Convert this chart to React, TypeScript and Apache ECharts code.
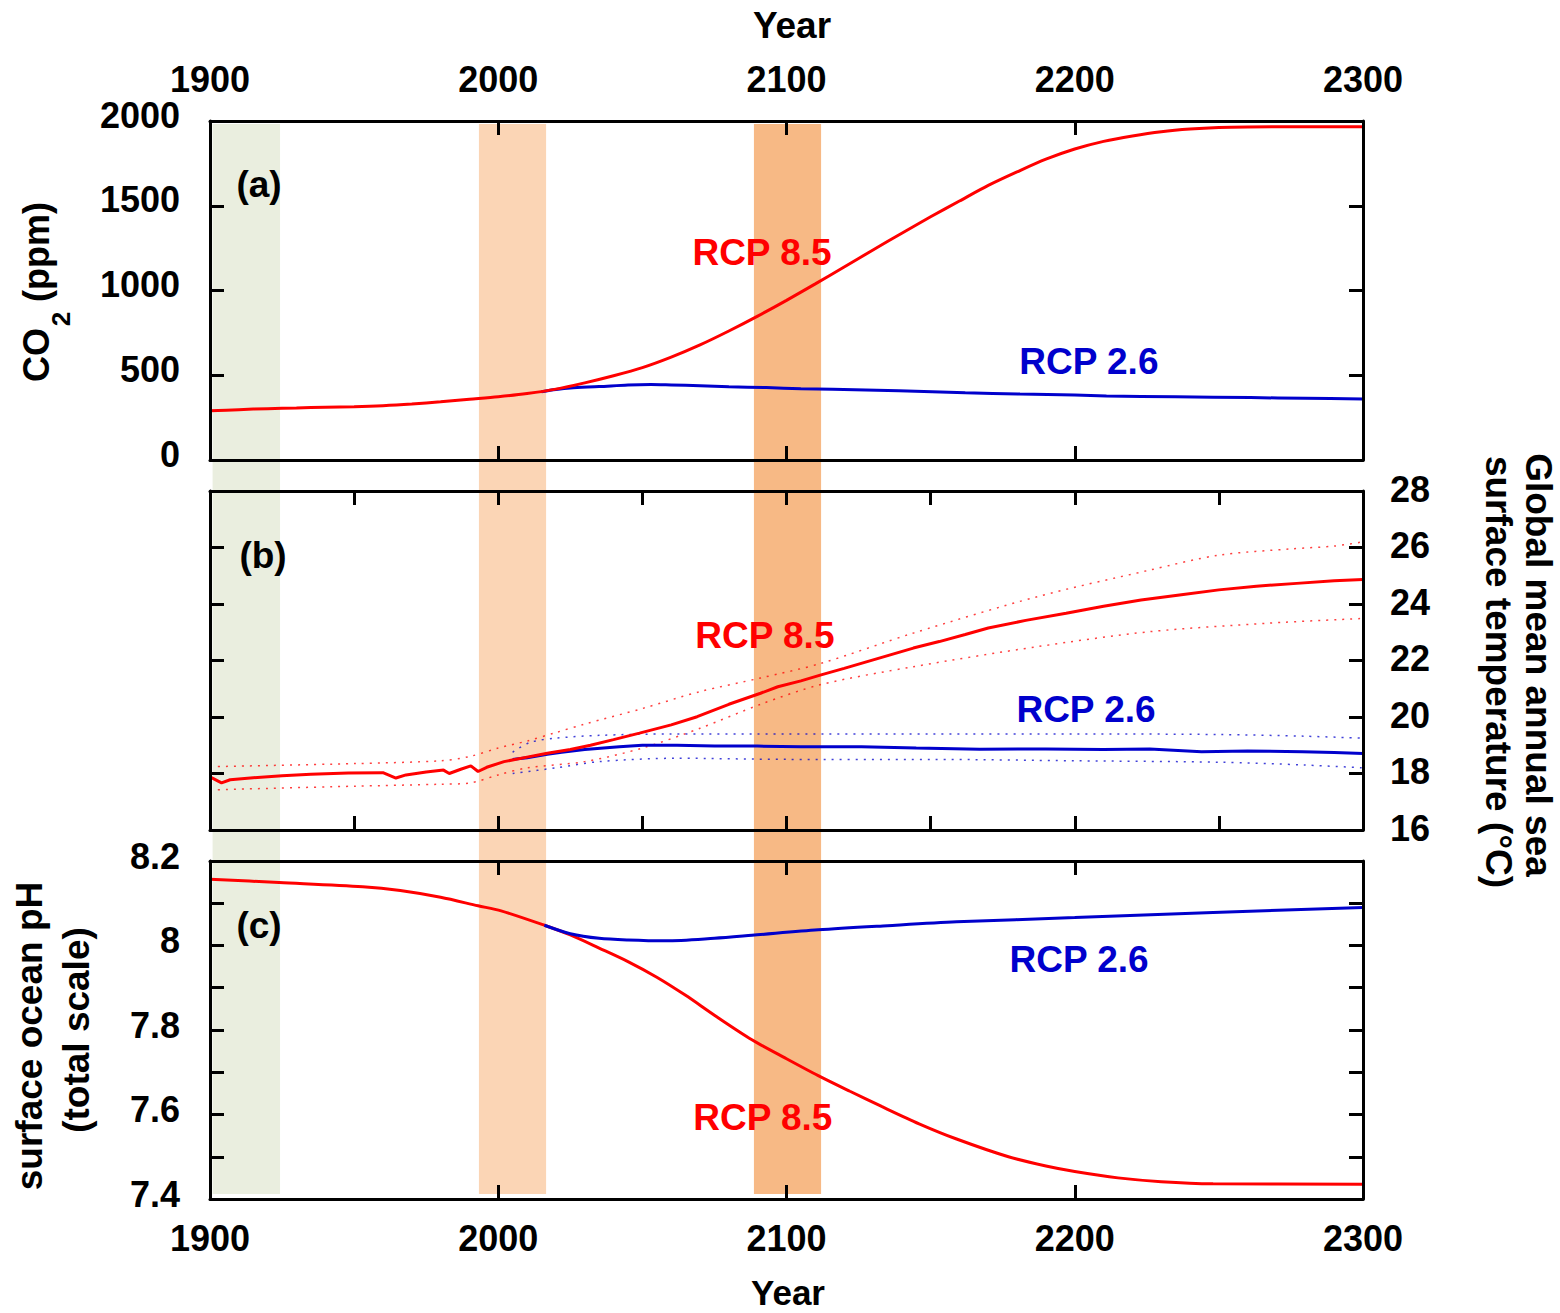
import React, { useEffect, useRef } from 'react';
import * as echarts from 'echarts';

// ---------- data ----------
const co2Rcp85: [number, number][] = [
  [1900, 290], [1910, 297], [1920, 303], [1930, 307], [1940, 311], [1950, 314], [1960, 320],
  [1970, 330], [1980, 343], [1990, 358], [2000, 373], [2010, 392], [2020, 418], [2030, 455],
  [2040, 497], [2050, 545], [2060, 607], [2070, 679], [2080, 761], [2090, 849], [2100, 942],
  [2110, 1039], [2120, 1139], [2130, 1239], [2140, 1338], [2150, 1435], [2160, 1528],
  [2170, 1620], [2180, 1700], [2190, 1775], [2200, 1835], [2210, 1880], [2220, 1912],
  [2230, 1937], [2240, 1953], [2250, 1962], [2260, 1965], [2280, 1966], [2300, 1966],
];
const co2Rcp26: [number, number][] = [
  [2015, 403], [2020, 416], [2025, 425], [2035, 433], [2045, 443], [2053, 446], [2060, 443],
  [2070, 438], [2080, 432], [2093, 427], [2105, 421], [2116, 417], [2139, 409], [2162, 397],
  [2181, 389], [2200, 383], [2211, 378], [2235, 373], [2261, 368], [2280, 364], [2300, 360],
];

const sstRcp85: [number, number][] = [
  [1900, 17.88], [1904, 17.67], [1907, 17.78], [1915, 17.85], [1925, 17.92], [1935, 17.97],
  [1948, 18.02], [1960, 18.03], [1964.5, 17.84], [1968, 17.95], [1975, 18.05], [1981, 18.12],
  [1983, 18.0], [1987, 18.15], [1990.5, 18.27], [1993, 18.07], [1996, 18.22], [2002, 18.42],
  [2010, 18.58], [2017, 18.72], [2025, 18.85], [2032, 19.0], [2040, 19.2], [2049, 19.43],
  [2060, 19.72], [2069, 20.01], [2080, 20.45], [2091, 20.84], [2097, 21.07], [2105, 21.28],
  [2112, 21.49], [2120, 21.72], [2128, 21.96], [2136, 22.2], [2144, 22.44], [2153, 22.67],
  [2162, 22.92], [2170, 23.15], [2183, 23.42], [2197, 23.67], [2210, 23.92], [2223, 24.14],
  [2237, 24.33], [2250, 24.5], [2263, 24.63], [2277, 24.73], [2290, 24.82], [2300, 24.87],
];
const sstRcp85Upper: [number, number][] = [
  [1900, 18.24], [1950, 18.35], [1980, 18.45], [1990, 18.6], [2000, 18.9], [2010, 19.15],
  [2020, 19.45], [2030, 19.75], [2050, 20.3], [2070, 20.9], [2091, 21.38], [2112, 21.9],
  [2144, 22.97], [2187, 24.26], [2226, 25.2], [2250, 25.73], [2275, 25.95], [2290, 26.05],
  [2300, 26.2],
];
const sstRcp85Lower: [number, number][] = [
  [1900, 17.42], [1950, 17.55], [1980, 17.62], [1990, 17.66], [2000, 17.95], [2010, 18.2],
  [2030, 18.42], [2050, 18.9], [2070, 19.6], [2091, 20.45], [2112, 21.15], [2144, 21.78],
  [2187, 22.49], [2226, 23.02], [2267, 23.32], [2300, 23.49],
];
const sstRcp26: [number, number][] = [
  [2005, 18.5], [2010, 18.56], [2017, 18.68], [2022, 18.75], [2030, 18.85], [2042, 18.95],
  [2050, 19.0], [2062, 19.0], [2075, 18.97], [2090, 18.97], [2105, 18.95], [2126, 18.95],
  [2145, 18.9], [2167, 18.86], [2190, 18.87], [2210, 18.85], [2226, 18.87], [2244, 18.77],
  [2260, 18.8], [2279, 18.77], [2290, 18.74], [2300, 18.71],
];
const sstRcp26Upper: [number, number][] = [
  [2005, 18.75], [2011, 19.1], [2020, 19.25], [2035, 19.35], [2060, 19.4], [2100, 19.4],
  [2150, 19.4], [2200, 19.4], [2250, 19.38], [2280, 19.32], [2300, 19.25],
];
const sstRcp26Lower: [number, number][] = [
  [2005, 18.0], [2020, 18.2], [2035, 18.42], [2062, 18.54], [2100, 18.5], [2150, 18.5],
  [2200, 18.45], [2250, 18.4], [2280, 18.3], [2300, 18.2],
];

const phRcp85: [number, number][] = [
  [1900, 8.157], [1924, 8.149], [1953, 8.139], [1966, 8.13], [1980, 8.114], [1993, 8.094],
  [2001, 8.082], [2016, 8.048], [2025, 8.025], [2035, 7.994], [2045, 7.962], [2055, 7.925],
  [2065, 7.882], [2075, 7.835], [2088, 7.777], [2100, 7.732], [2111, 7.692], [2122, 7.655],
  [2133, 7.619], [2146, 7.578], [2159, 7.542], [2177, 7.5], [2190, 7.478], [2200, 7.465],
  [2215, 7.45], [2230, 7.441], [2248, 7.436], [2300, 7.435],
];
const phRcp26: [number, number][] = [
  [2016, 8.048], [2025, 8.028], [2035, 8.017], [2045, 8.013], [2058, 8.011], [2075, 8.017],
  [2088, 8.024], [2111, 8.037], [2135, 8.047], [2159, 8.056], [2200, 8.066], [2248, 8.078],
  [2300, 8.09],
];

// shaded periods (years)
const bandStarts = [1900.9, 1993.3, 2088.7];
const bandEnds = [1924.3, 2016.6, 2112];
const bandColors = ['#EAEEDF', '#FBD5B5', '#F7B985'];

// annotation anchors [year, value]
const co2Label85: [number, number] = [2091.5, 1224];
const co2Label26: [number, number] = [2204.9, 584];
const sstLabel85: [number, number] = [2092.5, 22.87];
const sstLabel26: [number, number] = [2203.9, 20.28];
const phLabel26: [number, number] = [2201.5, 7.968];
const phLabel85: [number, number] = [2091.8, 7.5935];

const RED = '#FF0000';
const BLUE = '#0000CC';
const FONT = '"Liberation Sans", Arial, Helvetica, sans-serif';

const tickStyle = { inside: true, length: 14, lineStyle: { color: '#000', width: 3 } };
const lineStyleAxis = { show: true, onZero: false, lineStyle: { color: '#000', width: 3 } };
const labelFont = { fontFamily: FONT, fontSize: 36, fontWeight: 'bold' as const, color: '#000' };
const plain = (v: number) => String(v);

function xAx(gridIndex: number, position: 'top' | 'bottom', interval: number, labels: boolean, margin = 22) {
  return {
    type: 'value', gridIndex, position, min: 1900, max: 2300, interval, z: 10,
    axisLine: lineStyleAxis, axisTick: tickStyle, splitLine: { show: false },
    axisLabel: labels
      ? { ...labelFont, margin, formatter: plain, showMinLabel: true, showMaxLabel: true }
      : { show: false },
  };
}
function yAx(gridIndex: number, position: 'left' | 'right', min: number, max: number, interval: number,
  labels: boolean, margin: number, formatter?: (v: number) => string, raise = 0) {
  const lift = raise > 0 ? { verticalAlign: 'bottom', lineHeight: raise * 2 } : {};
  return {
    type: 'value', gridIndex, position, min, max, interval, z: 10,
    axisLine: lineStyleAxis, axisTick: tickStyle, splitLine: { show: false },
    axisLabel: labels
      ? { ...labelFont, margin, formatter: formatter || plain, showMinLabel: true, showMaxLabel: true, ...lift }
      : { show: false },
  };
}

function annot(pos: [number, number], text: string, color: string) {
  return {
    symbol: 'rect', symbolSize: 1, silent: true,
    itemStyle: { color: 'rgba(0,0,0,0)' },
    label: { show: true, position: 'inside', formatter: text, color, fontFamily: FONT, fontSize: 37, fontWeight: 'bold' },
    data: [{ coord: pos }],
  };
}

function mainLine(data: [number, number][], color: string, xi: number, yi: number, smooth: boolean, mp?: any) {
  return {
    type: 'line', data, xAxisIndex: xi, yAxisIndex: yi, symbol: 'none', z: 5,
    smooth: smooth ? 0.3 : false,
    lineStyle: { color, width: 3 }, itemStyle: { color }, markPoint: mp,
  };
}
function dotLine(data: [number, number][], color: string, xi: number, yi: number) {
  return {
    type: 'line', data, xAxisIndex: xi, yAxisIndex: yi, symbol: 'none', z: 4, smooth: 0.3,
    lineStyle: { color, width: 1.5, type: [2, 6], opacity: 0.75 },
  };
}

function txt(x: number, y: number, text: string, opts: any = {}) {
  return {
    type: 'text', x, y, rotation: opts.rotation || 0, z: 20,
    style: {
      text, fill: '#000', font: `bold ${opts.size || 37}px ${FONT}`,
      align: 'center', verticalAlign: 'middle',
    },
  };
}

export default function App() {
  const ref = useRef<HTMLDivElement>(null);
  useEffect(() => {
    if (!ref.current) return;
    const chart = echarts.init(ref.current, undefined, { renderer: 'svg' });
    const phFmt = (v: number) => {
      const r = Math.round(v * 10);
      return r % 2 === 0 ? String(r / 10) : '';
    };
    const option: any = {
      animation: false,
      backgroundColor: '#fff',
      grid: [
        { left: 210, right: 197, top: 121, height: 339 },
        { left: 210, right: 197, top: 491, height: 339 },
        { left: 210, right: 197, top: 861, height: 338 },
        { left: 210, right: 197, top: 124, bottom: 119 },
      ],
      xAxis: [
        xAx(0, 'bottom', 100, false),
        xAx(0, 'top', 100, true, 24),
        xAx(1, 'bottom', 50, false),
        xAx(1, 'top', 50, false),
        xAx(2, 'bottom', 100, true, 21),
        xAx(2, 'top', 100, false),
        { type: 'value', gridIndex: 3, min: 1900, max: 2300, show: false },
      ],
      yAxis: [
        yAx(0, 'left', 0, 2000, 500, true, 30, undefined, 6),
        yAx(0, 'right', 0, 2000, 500, false, 0),
        yAx(1, 'left', 16, 28, 2, false, 0),
        yAx(1, 'right', 16, 28, 2, true, 27, undefined, 2),
        yAx(2, 'left', 7.4, 8.2, 0.1, true, 30, phFmt, 5),
        yAx(2, 'right', 7.4, 8.2, 0.1, false, 0),
        { type: 'value', gridIndex: 3, min: 0, max: 1, show: false },
      ],
      series: [
        {
          type: 'line', xAxisIndex: 6, yAxisIndex: 6, data: [[1900, 0]], symbol: 'none', z: 1,
          lineStyle: { width: 0, opacity: 0 }, silent: true,
          markArea: {
            silent: true, z: 1,
            data: bandStarts.map((s, i) => [
              { xAxis: s, itemStyle: { color: bandColors[i], opacity: 1 } },
              { xAxis: bandEnds[i] },
            ]),
          },
        },
        // panel (a)
        mainLine(co2Rcp26, BLUE, 0, 0, true, annot(co2Label26, 'RCP 2.6', BLUE)),
        mainLine(co2Rcp85, RED, 0, 0, true, annot(co2Label85, 'RCP 8.5', RED)),
        // panel (b)
        dotLine(sstRcp85Upper, RED, 2, 3),
        dotLine(sstRcp85Lower, RED, 2, 3),
        dotLine(sstRcp26Upper, BLUE, 2, 3),
        dotLine(sstRcp26Lower, BLUE, 2, 3),
        mainLine(sstRcp26, BLUE, 2, 3, false, annot(sstLabel26, 'RCP 2.6', BLUE)),
        mainLine(sstRcp85, RED, 2, 3, false, annot(sstLabel85, 'RCP 8.5', RED)),
        // panel (c)
        mainLine(phRcp85, RED, 4, 4, true, annot(phLabel85, 'RCP 8.5', RED)),
        mainLine(phRcp26, BLUE, 4, 4, true, annot(phLabel26, 'RCP 2.6', BLUE)),
      ],
      graphic: [
        txt(792, 25, 'Year'),
        txt(788, 1292, 'Year', { size: 35 }),
        txt(36, 355, 'CO', { rotation: Math.PI / 2, size: 36 }),
        txt(61, 319, '2', { rotation: Math.PI / 2, size: 26 }),
        txt(36, 252, '(ppm)', { rotation: Math.PI / 2, size: 36 }),
        txt(29, 1036, 'surface ocean pH', { rotation: Math.PI / 2, size: 37 }),
        txt(76, 1030, '(total scale)', { rotation: Math.PI / 2, size: 37 }),
        txt(1538, 665, 'Global mean annual sea', { rotation: -Math.PI / 2, size: 37 }),
        txt(1498, 672, 'surface temperature (°C)', { rotation: -Math.PI / 2, size: 37 }),
        txt(259, 184, '(a)'),
        txt(263, 555, '(b)'),
        txt(259, 925, '(c)'),
      ],
    };
    chart.setOption(option);
    return () => chart.dispose();
  }, []);
  return <div ref={ref} style={{ position: 'absolute', left: 0, top: 0, width: 1560, height: 1313 }} />;
}
